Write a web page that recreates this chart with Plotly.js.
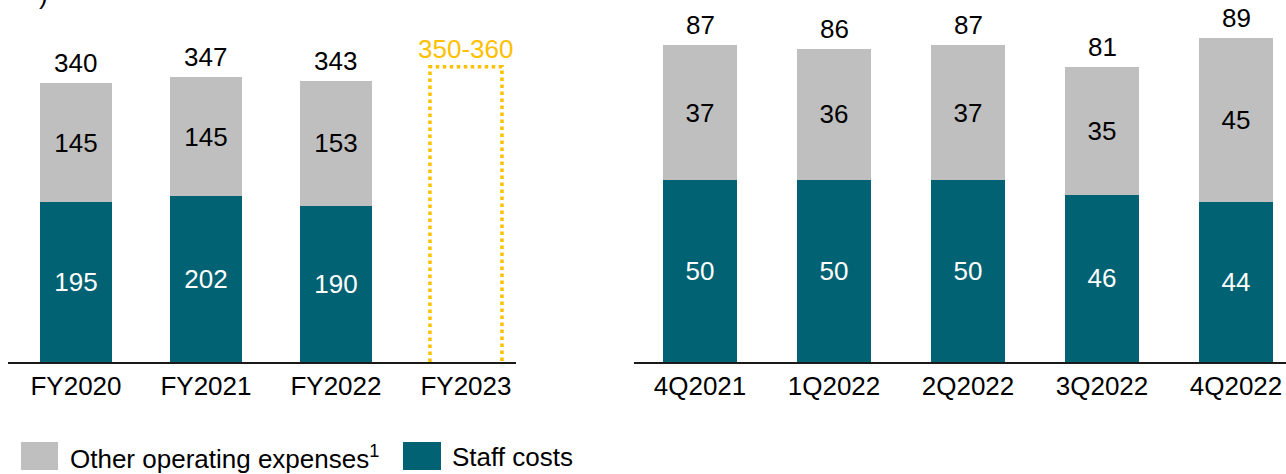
<!DOCTYPE html>
<html>
<head>
<meta charset="utf-8">
<script src="https://cdn.plot.ly/plotly-3.0.1.min.js"></script>
<style>html,body{margin:0;padding:0;background:#fff;}#chart{width:1286px;height:474px;}</style>
</head>
<body>
<div id="chart"></div>
<script>
// ---- data ----
const fyCats = ['FY2020', 'FY2021', 'FY2022', 'FY2023'];
const fyStaff = [195, 202, 190, null];
const fyOther = [145, 145, 153, null];
const fyGuidanceLow = 350;
const fyGuidanceHigh = 360;
const fyGuidanceCat = 'FY2023';

const qCats = ['4Q2021', '1Q2022', '2Q2022', '3Q2022', '4Q2022'];
const qStaff = [50, 50, 50, 46, 44];
const qOther = [37, 36, 37, 35, 45];

const legendNames = ['Other operating expenses<sup>1</sup>', 'Staff costs'];

// ---- style ----
const W = 1286, H = 474;
const baseY = 362;
const TEAL = '#006272';
const GREY = '#BFBFBF';
const GOLD = '#FFC000';
const FONT = 'Liberation Sans, Arial, sans-serif';
const FS = 26;
const bwL = 0.554, bwR = 0.55;

const px2x = p => p / W;
const px2y = p => (baseY - p) / baseY;

const traces = [
  {type: 'bar', x: fyCats, y: fyStaff, xaxis: 'x', yaxis: 'y', width: bwL,
   marker: {color: TEAL}, text: fyStaff.map(v => v == null ? '' : String(v)),
   textposition: 'inside', insidetextanchor: 'middle', textangle: 0,
   textfont: {color: '#fff', size: FS, family: FONT}, hoverinfo: 'skip'},
  {type: 'bar', x: fyCats, y: fyOther, xaxis: 'x', yaxis: 'y', width: bwL,
   marker: {color: GREY}, text: fyOther.map(v => v == null ? '' : String(v)),
   textposition: 'inside', insidetextanchor: 'middle', textangle: 0,
   textfont: {color: '#000', size: FS, family: FONT}, hoverinfo: 'skip'},
  {type: 'bar', x: qCats, y: qStaff, xaxis: 'x2', yaxis: 'y2', width: bwR,
   marker: {color: TEAL}, text: qStaff.map(String),
   textposition: 'inside', insidetextanchor: 'middle', textangle: 0,
   textfont: {color: '#fff', size: FS, family: FONT}, hoverinfo: 'skip'},
  {type: 'bar', x: qCats, y: qOther, xaxis: 'x2', yaxis: 'y2', width: bwR,
   marker: {color: GREY}, text: qOther.map(String),
   textposition: 'inside', insidetextanchor: 'middle', textangle: 0,
   textfont: {color: '#000', size: FS, family: FONT}, hoverinfo: 'skip'}
];

const annotations = [];
fyCats.forEach((c, i) => {
  if (fyStaff[i] == null) return;
  const t = fyStaff[i] + fyOther[i];
  annotations.push({xref: 'x', yref: 'y', x: c, y: t, text: String(t), showarrow: false,
    yanchor: 'bottom', yshift: 3, font: {size: FS, color: '#000', family: FONT}});
});
qCats.forEach((c, i) => {
  const t = qStaff[i] + qOther[i];
  annotations.push({xref: 'x2', yref: 'y2', x: c, y: t, text: String(t), showarrow: false,
    yanchor: 'bottom', yshift: 3, font: {size: FS, color: '#000', family: FONT}});
});
annotations.push({xref: 'x', yref: 'y', x: fyGuidanceCat, y: fyGuidanceHigh,
  text: fyGuidanceLow + '-' + fyGuidanceHigh, showarrow: false, yanchor: 'bottom', yshift: 1,
  font: {size: FS, color: GOLD, family: FONT}});

// cut-off heading fragment at top-left (as in the reference)
annotations.push({xref: 'paper', yref: 'paper', x: px2x(43), y: px2y(12), text: ')',
  showarrow: false, xanchor: 'center', yanchor: 'bottom', font: {size: FS, color: '#000', family: FONT}});

// legend
annotations.push({xref: 'paper', yref: 'paper', x: px2x(68), y: px2y(457), text: legendNames[0],
  showarrow: false, xanchor: 'left', yanchor: 'middle', font: {size: FS, color: '#000', family: FONT}});
annotations.push({xref: 'paper', yref: 'paper', x: px2x(450), y: px2y(457), text: legendNames[1],
  showarrow: false, xanchor: 'left', yanchor: 'middle', font: {size: FS, color: '#000', family: FONT}});

const gi = fyCats.indexOf(fyGuidanceCat);
const gx0 = gi - bwL / 2, gx1 = gi + bwL / 2;
const shapes = [
  {type: 'path', xref: 'x', yref: 'y',
   path: `M ${gx0} 0 L ${gx0} ${fyGuidanceHigh} L ${gx1} ${fyGuidanceHigh} L ${gx1} 0`,
   line: {color: GOLD, width: 3.5, dash: 'dot'}},
  {type: 'rect', xref: 'paper', yref: 'paper', x0: px2x(21), x1: px2x(58), y0: px2y(470), y1: px2y(442),
   fillcolor: GREY, line: {width: 0}},
  {type: 'rect', xref: 'paper', yref: 'paper', x0: px2x(403), x1: px2x(441), y0: px2y(470), y1: px2y(442),
   fillcolor: TEAL, line: {width: 0}}
];

const xCommon = {type: 'category', showgrid: false, zeroline: false, showline: true,
  linecolor: '#1a1a1a', linewidth: 2, ticks: '', fixedrange: true,
  tickfont: {size: FS, color: '#000', family: FONT}};
const yCommon = {showgrid: false, zeroline: false, showline: false, showticklabels: false, fixedrange: true};

const layout = {
  width: W, height: H,
  margin: {l: 0, r: 0, t: 0, b: H - baseY, pad: 0},
  paper_bgcolor: '#fff', plot_bgcolor: '#fff',
  barmode: 'stack', showlegend: false,
  font: {family: FONT, size: FS, color: '#000'},
  xaxis: Object.assign({}, xCommon, {domain: [px2x(8), px2x(516)], range: [-0.523, 3.385], anchor: 'y'}),
  yaxis: Object.assign({}, yCommon, {domain: [0, 1], range: [0, baseY / 0.82], anchor: 'x'}),
  xaxis2: Object.assign({}, xCommon, {domain: [px2x(634), 1], range: [-0.4925, 4.373], anchor: 'y2'}),
  yaxis2: Object.assign({}, yCommon, {domain: [0, 1], range: [0, baseY / 3.64], anchor: 'x2'}),
  annotations: annotations,
  shapes: shapes
};

Plotly.newPlot('chart', traces, layout, {displayModeBar: false, staticPlot: true});
</script>
</body>
</html>
